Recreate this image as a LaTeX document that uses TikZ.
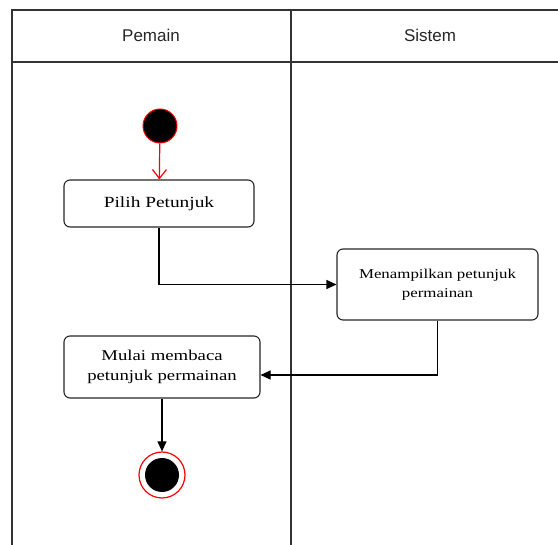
\documentclass[tikz,border=0pt]{standalone}
\usepackage{fontspec}
\setmainfont{Liberation Serif}[FakeStretch=1.25]
\setsansfont{Liberation Sans}
\usetikzlibrary{arrows.meta}
\definecolor{lane}{HTML}{333333}
\definecolor{startred}{HTML}{FF0000}
\begin{document}
\begin{tikzpicture}[x=1pt,y=-1pt,
  lanebox/.style={draw=lane,line width=1.4pt},
  actbox/.style={draw=black!85,line width=1.1pt,rounded corners=6pt,fill=white,
    align=center,inner sep=0pt,font=\fontsize{15.5}{17}\selectfont},
  flow/.style={draw=black,line width=1.1pt,-{Triangle[length=10pt,width=9pt]}},
  hdr/.style={font=\sffamily\fontsize{17}{19}\selectfont,text=black!85}]
\useasboundingbox (0,0) rectangle (558,545);
% swimlane frame
\draw[lanebox] (12,560) -- (12,10) -- (570,10);
\draw[lanebox] (12,62) -- (570,62);
\draw[lanebox] (291,10) -- (291,560);
\node[hdr] (pemain) at (151,35) {Pemain};
\node[hdr] (sistem) at (430,35) {Sistem};
% initial node
\node[circle,fill=black,draw=startred,line width=1pt,minimum size=34pt,inner sep=0pt] (start) at (160,126) {};
% actions
\node[actbox,minimum width=190pt,minimum height=47pt] (pilih) at (159,203.5) {Pilih Petunjuk};
\node[actbox,minimum width=201pt,minimum height=71pt,font=\fontsize{13.5}{19}\selectfont] (tampil) at (437.5,284.5) {Menampilkan petunjuk\\permainan};
\node[actbox,minimum width=196pt,minimum height=62pt,font=\fontsize{15}{20}\selectfont] (baca) at (162,367) {Mulai membaca\\petunjuk permainan};
% final node
\node[circle,draw=startred,line width=1.2pt,fill=white,minimum size=46pt,inner sep=0pt] (end) at (162,475) {};
\node[circle,fill=black,minimum size=34pt,inner sep=0pt] (endin) at (162,475) {};
% transitions
\draw[draw=startred,line width=1.2pt,-{Straight Barb[length=9pt,width=14pt]}] (start) -- (pilih);
\draw[flow] (pilih.south) |- (tampil.west);
\draw[flow] (tampil.south) |- ([yshift=-8pt]baca.east);
\draw[flow] (baca) -- (end);
\end{tikzpicture}
\end{document}
